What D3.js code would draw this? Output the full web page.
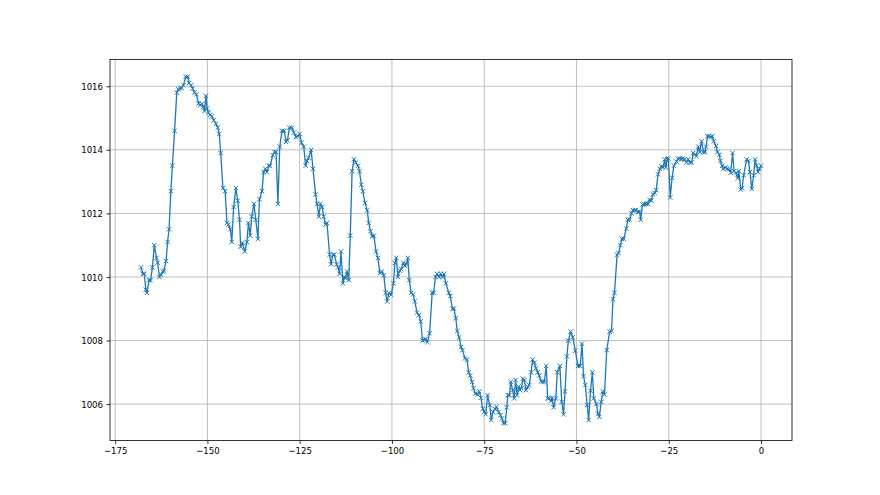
<!DOCTYPE html>
<html>
<head>
<meta charset="utf-8">
<script src="https://cdn.jsdelivr.net/npm/d3@7"></script>
<style>
  body { margin: 0; background: #fff; }
  svg { display: block; }
  .tick text { font-family: "Liberation Sans Narrow", "DejaVu Sans Condensed", sans-serif; font-size: 9.5px; fill: #000; }
</style>
</head>
<body>
<div id="chart"></div>
<script>
// hours (x)
const hours = [
  -168.0, -167.5, -167.1, -166.7, -166.4, -165.8, -165.4, -164.9, -164.4, -163.8,
  -163.5, -163.0, -162.6, -162.1, -161.8, -161.2, -160.8, -160.4, -159.9, -159.5,
  -158.9, -158.3, -157.9, -157.4, -157.0, -156.5, -155.9, -155.3, -155.0, -154.4,
  -154.0, -153.5, -153.0, -152.4, -152.0, -151.5, -151.1, -150.8, -150.4, -150.1,
  -149.7, -149.3, -148.8, -148.3, -147.7, -147.2, -146.8, -146.4, -145.8, -145.2,
  -144.7, -144.3, -143.8, -143.4, -142.9, -142.3, -141.8, -141.3, -141.0, -140.5,
  -139.9, -139.3, -138.9, -138.4, -138.0, -137.4, -136.9, -136.3, -135.9, -135.2,
  -134.8, -134.3, -133.9, -133.4, -133.0, -132.3, -131.8, -131.4, -130.9, -130.4,
  -129.8, -129.2, -128.7, -128.3, -127.8, -127.1, -126.6, -126.0, -125.5, -125.0,
  -124.5, -123.9, -123.4, -123.0, -122.6, -121.9, -121.4, -120.7, -120.3, -119.8,
  -119.4, -118.9, -118.5, -118.0, -117.6, -116.9, -116.5, -116.0, -115.6, -115.0,
  -114.6, -114.2, -113.8, -113.3, -112.9, -112.6, -112.2, -111.7, -111.3, -110.8,
  -110.3, -109.8, -109.2, -108.8, -108.3, -107.9, -107.3, -106.7, -106.3, -105.8,
  -105.4, -104.9, -104.3, -103.8, -103.3, -102.7, -102.2, -101.7, -101.3, -100.8,
  -100.2, -99.6, -99.2, -98.8, -98.4, -97.9, -97.5, -96.9, -96.5, -96.1,
  -95.7, -95.3, -94.8, -94.3, -93.8, -93.2, -92.7, -92.2, -91.7, -91.3,
  -90.9, -90.4, -89.8, -89.1, -88.7, -88.2, -87.8, -87.2, -86.8, -86.3,
  -85.9, -85.4, -84.6, -84.2, -83.6, -83.2, -82.7, -82.3, -81.8, -81.3,
  -80.9, -80.2, -79.7, -79.2, -78.8, -78.3, -77.9, -77.4, -76.8, -76.3,
  -75.9, -75.4, -75.0, -74.6, -74.1, -73.5, -73.1, -72.6, -72.1, -71.7,
  -71.1, -70.6, -70.2, -69.8, -69.3, -68.9, -68.6, -68.2, -67.8, -67.3,
  -66.9, -66.5, -66.1, -65.7, -65.3, -64.9, -64.5, -64.1, -63.7, -63.2,
  -62.8, -62.3, -61.9, -61.4, -61.0, -60.5, -60.1, -59.6, -59.2, -58.7,
  -58.2, -57.8, -57.4, -56.9, -56.6, -56.2, -55.6, -55.2, -54.5, -54.0,
  -53.5, -53.1, -52.6, -52.2, -51.6, -51.0, -50.3, -49.6, -49.0, -48.5,
  -48.1, -47.6, -47.1, -46.7, -46.2, -45.7, -45.3, -44.6, -44.2, -43.8,
  -43.3, -42.9, -42.4, -41.8, -41.0, -40.5, -40.1, -39.7, -39.0, -38.6,
  -38.1, -37.7, -37.2, -36.5, -36.1, -35.6, -35.1, -34.7, -34.2, -33.8,
  -33.3, -32.9, -32.6, -32.1, -31.7, -31.1, -30.6, -30.2, -29.7, -29.3,
  -28.8, -28.4, -27.9, -27.4, -27.0, -26.5, -26.1, -25.8, -25.4, -25.1,
  -24.6, -24.1, -23.6, -22.9, -22.5, -22.0, -21.6, -21.2, -20.7, -20.2,
  -19.7, -19.3, -18.8, -18.4, -17.9, -17.5, -17.0, -16.6, -16.1, -15.6,
  -15.2, -14.9, -14.5, -14.1, -13.6, -13.2, -12.8, -12.2, -11.8, -11.3,
  -11.0, -10.5, -10.2, -9.6, -9.2, -8.7, -8.2, -7.7, -7.3, -6.8,
  -6.3, -6.0, -5.5, -5.1, -4.7, -3.9, -3.4, -3.0, -2.5, -2.0,
  -1.6, -1.2, -0.8, -0.4, 0.0
];

// pressure values (y)
const pressure = [
  1010.3, 1010.1, 1010.1, 1009.6, 1009.5, 1009.9, 1009.9, 1010.3, 1011.0, 1010.6,
  1010.45, 1010.0, 1010.07, 1010.17, 1010.2, 1010.5, 1011.1, 1011.5, 1012.7, 1013.5,
  1014.6, 1015.8, 1015.9, 1015.93, 1015.95, 1016.03, 1016.3, 1016.3, 1016.1, 1016.03,
  1015.93, 1015.8, 1015.75, 1015.46, 1015.4, 1015.45, 1015.35, 1015.22, 1015.7, 1015.3,
  1015.17, 1015.1, 1015.05, 1014.93, 1014.82, 1014.7, 1014.5, 1013.9, 1012.8, 1012.7,
  1011.7, 1011.65, 1011.5, 1011.1, 1012.2, 1012.8, 1012.4, 1011.8, 1010.95, 1011.07,
  1010.8, 1011.1, 1011.7, 1011.3, 1011.9, 1012.3, 1011.8, 1011.2, 1012.45, 1012.7,
  1013.3, 1013.4, 1013.3, 1013.5, 1013.5, 1013.83, 1013.93, 1013.93, 1012.3, 1014.1,
  1014.6, 1014.6, 1014.25, 1014.3, 1014.7, 1014.7, 1014.54, 1014.4, 1014.43, 1014.5,
  1014.22, 1014.1, 1013.5, 1013.65, 1013.75, 1014.0, 1013.4, 1012.6, 1012.3, 1011.9,
  1012.3, 1012.2, 1011.9, 1011.65, 1011.7, 1010.7, 1010.4, 1010.7, 1010.7, 1010.4,
  1010.3, 1010.1, 1010.8, 1009.8, 1010.0, 1009.96, 1010.17, 1009.9, 1011.3, 1013.33,
  1013.7, 1013.6, 1013.5, 1013.33, 1012.9, 1012.7, 1012.33, 1012.1, 1011.7, 1011.44,
  1011.28, 1011.3, 1010.8, 1010.6, 1010.12, 1010.17, 1010.05, 1009.5, 1009.23, 1009.5,
  1009.44, 1009.8, 1010.44, 1010.6, 1010.0, 1010.2, 1010.25, 1010.44, 1010.35, 1010.4,
  1010.6, 1009.9, 1009.5, 1009.45, 1009.23, 1008.88, 1008.8, 1008.6, 1008.0, 1008.03,
  1008.05, 1007.95, 1008.23, 1009.5, 1009.5, 1010.0, 1010.1, 1010.0, 1010.1, 1010.0,
  1010.1, 1009.8, 1009.5, 1009.4, 1009.0, 1009.0, 1008.7, 1008.3, 1008.1, 1007.8,
  1007.7, 1007.44, 1007.4, 1007.0, 1006.9, 1006.7, 1006.5, 1006.33, 1006.3, 1006.4,
  1006.2, 1005.85, 1005.76, 1005.68, 1006.28, 1005.97, 1005.5, 1005.75, 1005.85, 1005.92,
  1005.75, 1005.65, 1005.55, 1005.4, 1005.4, 1005.9, 1006.28, 1006.28, 1006.7, 1006.44,
  1006.18, 1006.76, 1006.28, 1006.55, 1006.44, 1006.5, 1006.8, 1006.75, 1006.44, 1006.55,
  1006.6, 1007.0, 1007.4, 1007.3, 1007.13, 1007.0, 1006.9, 1006.72, 1006.7, 1006.7,
  1007.2, 1006.18, 1006.18, 1006.1, 1006.2, 1005.9, 1006.18, 1007.0, 1007.2, 1006.07,
  1005.68, 1006.4, 1007.5, 1008.0, 1008.28, 1008.1, 1007.68, 1007.2, 1007.2, 1007.9,
  1006.88, 1006.6, 1005.97, 1005.5, 1006.42, 1007.0, 1006.18, 1006.0, 1005.7, 1005.6,
  1006.07, 1006.4, 1006.3, 1007.7, 1008.28, 1008.3, 1009.3, 1009.5, 1010.7, 1010.75,
  1011.0, 1011.2, 1011.2, 1011.52, 1011.8, 1011.8, 1012.0, 1012.1, 1012.1, 1012.1,
  1012.05, 1012.05, 1011.8, 1012.28, 1012.3, 1012.3, 1012.3, 1012.43, 1012.4, 1012.6,
  1012.64, 1012.73, 1013.23, 1013.4, 1013.48, 1013.45, 1013.7, 1013.45, 1013.7, 1013.73,
  1012.5, 1013.12, 1013.5, 1013.63, 1013.72, 1013.73, 1013.7, 1013.73, 1013.7, 1013.6,
  1013.7, 1013.6, 1013.6, 1013.9, 1013.85, 1013.8, 1014.1, 1013.93, 1014.27, 1013.93,
  1013.93, 1014.1, 1014.43, 1014.43, 1014.4, 1014.43, 1014.27, 1014.12, 1013.93, 1013.85,
  1013.65, 1013.5, 1013.4, 1013.45, 1013.4, 1013.38, 1013.28, 1013.9, 1013.33, 1013.28,
  1013.1, 1013.33, 1012.75, 1012.8, 1013.2, 1013.7, 1013.65, 1013.3, 1012.77, 1013.2,
  1013.7, 1013.5, 1013.3, 1013.4, 1013.5
];

const xTicks = [-175, -150, -125, -100, -75, -50, -25, 0];
const yTicks = [1006, 1008, 1010, 1012, 1014, 1016];

const data = hours.map((h, i) => ({ x: h, y: pressure[i] }));

const W = 880, H = 495;
const margin = { top: 59.4, right: 88, bottom: 54.5, left: 110 };
const width = W - margin.left - margin.right;
const height = H - margin.top - margin.bottom;

const svg = d3.select("#chart").append("svg")
  .attr("width", W)
  .attr("height", H);

const g = svg.append("g")
  .attr("transform", `translate(${margin.left},${margin.top})`);

// matplotlib style 5% padding around the data
const xExt = d3.extent(hours), yExt = d3.extent(pressure);
const xPad = (xExt[1] - xExt[0]) * 0.05, yPad = (yExt[1] - yExt[0]) * 0.05;

const x = d3.scaleLinear()
  .domain([xExt[0] - xPad, xExt[1] + xPad])
  .range([0, width]);

const y = d3.scaleLinear()
  .domain([yExt[0] - yPad, yExt[1] + yPad])
  .range([height, 0]);

// grid
g.append("g")
  .selectAll("line")
  .data(xTicks)
  .join("line")
  .attr("x1", d => x(d)).attr("x2", d => x(d))
  .attr("y1", 0).attr("y2", height)
  .attr("stroke", "#b0b0b0").attr("stroke-width", 0.8);

g.append("g")
  .selectAll("line")
  .data(yTicks)
  .join("line")
  .attr("x1", 0).attr("x2", width)
  .attr("y1", d => y(d)).attr("y2", d => y(d))
  .attr("stroke", "#b0b0b0").attr("stroke-width", 0.8);

// axes
const xAxis = g.append("g")
  .attr("transform", `translate(0,${height})`)
  .call(d3.axisBottom(x).tickValues(xTicks).tickSize(3.5).tickPadding(3.5)
    .tickFormat(d => d < 0 ? "\u2212" + Math.abs(d) : String(d)));
const yAxis = g.append("g")
  .call(d3.axisLeft(y).tickValues(yTicks).tickSize(3.5).tickPadding(3.5)
    .tickFormat(d3.format("d")));

[xAxis, yAxis].forEach(a => {
  a.select(".domain").remove();
  a.selectAll(".tick line").attr("stroke", "#000").attr("stroke-width", 0.8);
});

// line
const line = d3.line()
  .x(d => x(d.x))
  .y(d => y(d.y));

g.append("path")
  .datum(data)
  .attr("fill", "none")
  .attr("stroke", "#1f77b4")
  .attr("stroke-width", 1.3)
  .attr("stroke-linejoin", "round")
  .attr("d", line);

// x markers
const m = 2.2;
g.append("g")
  .selectAll("path")
  .data(data)
  .join("path")
  .attr("d", d => {
    const cx = x(d.x), cy = y(d.y);
    return `M${cx - m},${cy - m}L${cx + m},${cy + m}M${cx - m},${cy + m}L${cx + m},${cy - m}`;
  })
  .attr("stroke", "#1f77b4")
  .attr("stroke-width", 1)
  .attr("fill", "none");

// frame
g.append("rect")
  .attr("width", width)
  .attr("height", height)
  .attr("fill", "none")
  .attr("stroke", "#000")
  .attr("stroke-width", 0.8);
</script>
</body>
</html>
